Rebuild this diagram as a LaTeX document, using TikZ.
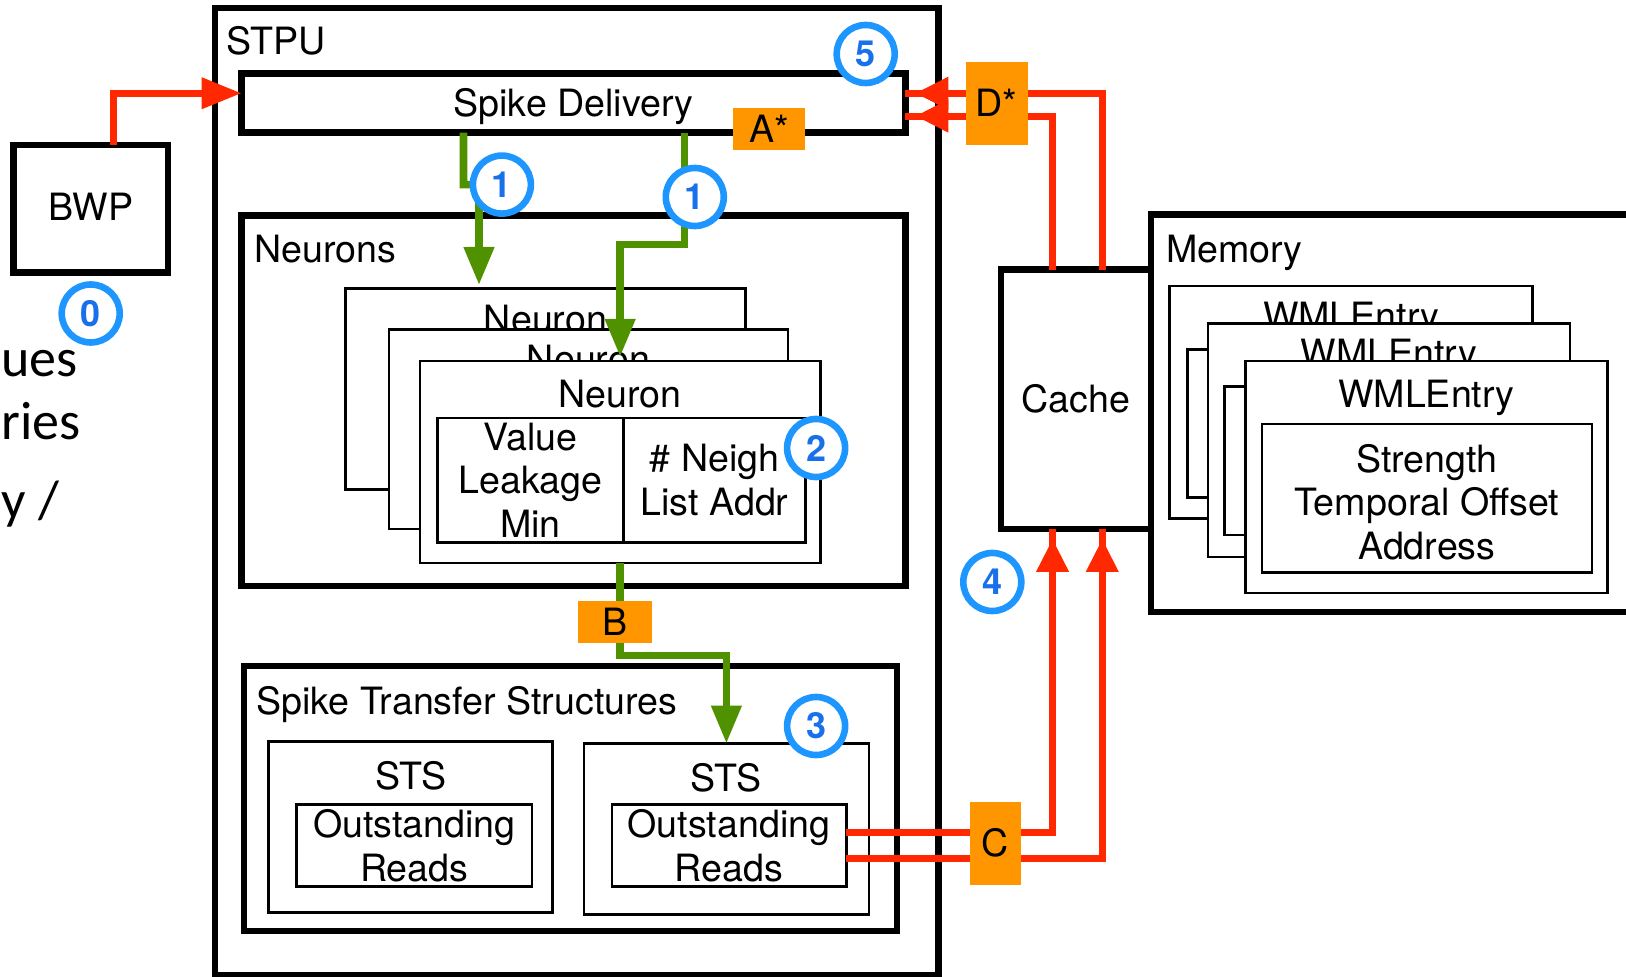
\documentclass[tikz,border=0pt]{standalone}
\usepackage{fontspec}
\setmainfont{TeX Gyre Heros}
\newfontfamily\fragfont{Carlito}
\usetikzlibrary{arrows.meta,fit}
\definecolor{cblue}{RGB}{30,150,255}
\definecolor{dblue}{RGB}{25,112,235}
\definecolor{orng}{RGB}{255,150,0}
\definecolor{rd}{RGB}{255,40,0}
\definecolor{grn}{RGB}{80,145,0}
\tikzset{
  thickbox/.style={draw, line width=3.2pt, inner sep=0pt, outer sep=0pt, fill=white},
  thinbox/.style={draw, line width=1.3pt, inner sep=0pt, outer sep=0pt, fill=white},
  lbl/.style={inner sep=0pt, font=\fontsize{18.8}{21.8}\selectfont, align=center},
  tag/.style={fill=orng, inner sep=0pt, outer sep=0pt},
  num/.style={circle, draw=cblue, line width=3.3pt, fill=white, minimum size=29pt, inner sep=0pt, text=dblue, font=\fontsize{18}{18}\selectfont\bfseries},
  redplain/.style={draw=rd, line width=3.5pt},
  redline/.style={draw=rd, line width=3.5pt, shorten >=5pt, -{Triangle[width=15.5pt,length=16.5pt]}},
  redlong/.style={draw=rd, line width=3.5pt, -{Triangle[width=15pt,length=20pt]}},
  grnline/.style={draw=grn, line width=3.8pt, -{Triangle[width=14.5pt,length=19pt]}},
  frag/.style={inner sep=0pt, font=\fragfont\fontsize{27}{29}\selectfont, anchor=base west},
}
\begin{document}
\begin{tikzpicture}[x=0.5pt, y=-0.5pt]
\clip (0,0) rectangle (1626,977);
\fill[white] (0,0) rectangle (1626,977);

% left text fragments
\node[frag] (fa) at (1,377) {ues};
\node[frag] (fb) at (1,440) {ries};
\node[frag] (fc) at (1,519) {y /};

% BWP
\node[thickbox, fit={(13.5,145.2)(168,272.7)}] (bwp) {};
\node[lbl, anchor=base] (bwpt) at (90.8,220.7) {BWP};

% STPU
\node[thickbox, fit={(215,8.3)(938.5,975)}] (stpu) {};
\node[lbl, anchor=base west] (stput) at (226,54.8) {STPU};

% Spike Delivery
\node[thickbox, fit={(241.6,73.6)(905.3,132.7)}] (sd) {};
\node[lbl, anchor=base] (sdt) at (573.5,117) {Spike Delivery};

% Neurons
\node[thickbox, fit={(241.6,215.7)(905.3,586)}] (neurons) {};
\node[lbl, anchor=base west] (neuronst) at (254,262.3) {Neurons};

\node[thinbox, fit={(345.3,288.3)(745.6,489.5)}] (n1) {};
\node[lbl, anchor=base] (n1t) at (545.5,332.3) {Neuron};
\node[thinbox, fit={(388.9,329.8)(788,528.9)}] (n2) {};
\node[lbl, anchor=base] (n2t) at (588.5,372.3) {Neuron};
\node[thinbox, fit={(420,360.9)(820.3,563.1)}] (n3) {};
\node[lbl, anchor=base] (n3t) at (620.2,407.3) {Neuron};
\node[thinbox, fit={(437.6,418)(805.7,542.4)}] (tbl) {};
\draw[line width=1.3pt] (623.2,418) -- (623.2,542.4);
\node[lbl] (vlm) at (530.4,480.2) {Value\\Leakage\\Min};
\node[lbl] (nla) at (714.5,480.2) {\# Neigh\\List Addr};

% Spike Transfer Structures
\node[thickbox, fit={(243.7,665.8)(897,931.2)}] (stsc) {};
\node[lbl, anchor=base west] (stsct) at (256,714.3) {Spike Transfer Structures};
\node[thinbox, fit={(268.6,741.5)(552.7,912.6)}] (sts1) {};
\node[lbl, anchor=base] (sts1t) at (410.6,789) {STS};
\node[thinbox, fit={(296.6,804.7)(532,886.6)}] (or1) {};
\node[lbl] (or1t) at (or1.center) {Outstanding\\Reads};
\node[thinbox, fit={(583.8,743.5)(869,914.6)}] (sts2) {};
\node[lbl, anchor=base] (sts2t) at (726.4,791) {STS};
\node[thinbox, fit={(611.8,804.7)(846.2,886.6)}] (or2) {};
\node[lbl] (or2t) at (or2.center) {Outstanding\\Reads};

% Memory
\node[thickbox, fit={(1151,214.7)(1720,611.8)}] (mem) {};
\node[lbl, anchor=base west] (memt) at (1165.6,262.3) {Memory};
\node[thinbox, fit={(1169.7,286.2)(1532.7,518.5)}] (w1) {};
\node[lbl, anchor=base] (w1t) at (1351.2,329.6) {WMLEntry};
\node[thinbox, fit={(1187.4,349.5)(1517,497.8)}] (w1i) {};
\node[thinbox, fit={(1208,323.5)(1570,556.9)}] (w2) {};
\node[lbl, anchor=base] (w2t) at (1389,366.9) {WMLEntry};
\node[thinbox, fit={(1224.7,386.8)(1555,535)}] (w2i) {};
\node[thinbox, fit={(1245.4,360.9)(1607.4,593.2)}] (w3) {};
\node[lbl, anchor=base] (w3t) at (1426.4,407.3) {WMLEntry};
\node[thinbox, fit={(1262,424.1)(1591.8,572.4)}] (w3i) {};
\node[lbl] (w3it) at (1426.9,502) {Strength\\Temporal Offset\\Address};

% Cache
\node[thickbox, fit={(1000.7,269.6)(1151,528.9)}] (cache) {};
\node[lbl, anchor=base] (cachet) at (1075.9,412.6) {Cache};

% connectors
\draw[redlong] ([xshift=11.6pt]bwp.north) |- ([yshift=4.95pt]sd.west);

\draw[redplain] ([xshift=13.2pt]cache.north) |- ([yshift=4.95pt]sd.east);
\draw[redline] ([xshift=13.2pt]cache.north) |- ([yshift=4.95pt]sd.east);
\draw[redplain] ([xshift=-11.65pt]cache.north) |- ([yshift=-6.45pt]sd.east);
\draw[redline] ([xshift=-11.65pt]cache.north) |- ([yshift=-6.45pt]sd.east);
\draw[redplain] ([yshift=6.47pt]or2.east) -| ([xshift=-11.65pt]cache.south);
\draw[redline] ([yshift=6.47pt]or2.east) -| ([xshift=-11.65pt]cache.south);
\draw[redplain] ([yshift=-6.47pt]or2.east) -| ([xshift=13.2pt]cache.south);
\draw[redline] ([yshift=-6.47pt]or2.east) -| ([xshift=13.2pt]cache.south);

\coordinate (g1end) at (479,285);
\draw[grnline] ([xshift=-55pt]sd.south) -- ++(0,51.9) -- ++(15.5,0) -- (g1end);
\draw[grnline] ([xshift=55.45pt]sd.south) -- ++(0,112) -| ([yshift=2pt]n3.north);
\draw[grnline] (n3.south) -- ++(0,92.3) -| (sts2.north);

% tags
\node[tag, fit={(733,107.8)(804.7,150.4)}] (tA) {};
\node[lbl, anchor=base] (tAt) at (769,142.4) {A*};
\node[tag, fit={(965.5,62.2)(1027.7,145.2)}] (tD) {};
\node[lbl, anchor=base] (tDt) at (996.6,117) {D*};
\node[tag, fit={(577.6,601.5)(652.3,643)}] (tB) {};
\node[lbl, anchor=base] (tBt) at (615,635.6) {B};
\node[tag, fit={(969.6,801.6)(1021.4,884.6)}] (tC) {};
\node[lbl, anchor=base] (tCt) at (995.5,856.4) {C};

% step numbers
\node[num] (c0) at (90.7,313.5) {0};
\node[num] (c1a) at (501.9,184.6) {1};
\node[num] (c1b) at (694.8,197) {1};
\node[num] (c2) at (816.1,448) {2};
\node[num] (c3) at (816.1,726) {3};
\node[num] (c4) at (992.3,582) {4};
\node[num] (c5) at (865.7,54) {5};
\end{tikzpicture}
\end{document}
